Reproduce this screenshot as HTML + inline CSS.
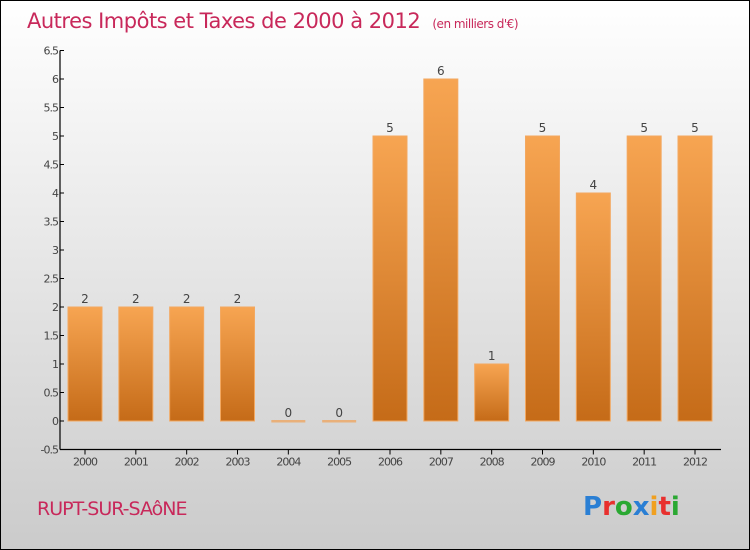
<!DOCTYPE html>
<html><head><meta charset="utf-8"><style>
body{margin:0;width:750px;height:550px;overflow:hidden}
svg{display:block;font-family:"DejaVu Sans","Liberation Sans",sans-serif}
</style></head><body>
<svg width="750" height="550">
<defs>
<linearGradient id="bg" x1="0" y1="0" x2="0" y2="1"><stop offset="0" stop-color="#ffffff"/><stop offset="1" stop-color="#cbcbcb"/></linearGradient>
<linearGradient id="bar" x1="0" y1="0" x2="0" y2="1"><stop offset="0" stop-color="#f7a552"/><stop offset="1" stop-color="#c56b18"/></linearGradient>
</defs>
<rect x="0.5" y="0.5" width="749" height="549" fill="url(#bg)" stroke="#000"/>
<text x="27" y="28" font-size="21" fill="#c8285a" style="letter-spacing:-0.5px">Autres Impôts et Taxes de 2000 à 2012 <tspan font-size="12" dx="6">(en milliers d'€)</tspan></text>
<g id="plot"></g>
<text x="37" y="515" font-size="19" fill="#c8285a" style="letter-spacing:-1px">RUPT-SUR-SAôNE</text>
<g font-size="26" font-weight="bold" font-family="'DejaVu Sans',sans-serif">
<text x="583" y="515"><tspan fill="#2a7fd4">P</tspan><tspan fill="#e8302e">r</tspan><tspan fill="#2aa832">o</tspan><tspan fill="#2a7fd4">x</tspan><tspan fill="#f0a020">i</tspan><tspan fill="#e8302e">t</tspan><tspan fill="#2aa832">i</tspan></text>
</g>
</svg>
<script>
const categories=["2000","2001","2002","2003","2004","2005","2006","2007","2008","2009","2010","2011","2012"];
const values=[2,2,2,2,0,0,5,6,1,5,4,5,5];
const yTicks=[-0.5,0,0.5,1,1.5,2,2.5,3,3.5,4,4.5,5,5.5,6,6.5];
const NS="http://www.w3.org/2000/svg";
const g=document.getElementById('plot');
const x0=60,x1=721,yTop=50.5,yBot=449.5,yMin=-0.5,yMax=6.5;
const y=v=>yBot-(v-yMin)/(yMax-yMin)*(yBot-yTop);
const xc=i=>85+i*(695-85)/(categories.length-1);
function el(t,a){const e=document.createElementNS(NS,t);for(const k in a)e.setAttribute(k,a[k]);g.appendChild(e);return e;}
const ya=el('line',{x1:x0,y1:yTop,x2:x0,y2:yBot,stroke:'#000','stroke-width':1.2});


const xa=el('line',{x1:x0,y1:yBot,x2:x1,y2:yBot,stroke:'#000','stroke-width':1.2});


yTicks.forEach(t=>{
 el('line',{x1:x0,y1:y(t),x2:x0+4,y2:y(t),stroke:'#000'});
 const tx=el('text',{x:x0-2,y:y(t)+4,'font-size':11,fill:'#444','text-anchor':'end','letter-spacing':'-1'});
 tx.textContent=String(t);
 
 
});
categories.forEach((c,i)=>{
 const cx=xc(i),v=values[i];
 el('line',{x1:cx,y1:yBot,x2:cx,y2:yBot+5,stroke:'#000'});
 const lb=el('text',{x:cx,y:yBot+16,'font-size':11,fill:'#444','text-anchor':'middle','letter-spacing':'-1'});
 lb.textContent=c;
 
 
 let b;
 if(v===0){b=el('rect',{x:cx-17,y:y(0)-1,width:34,height:2.5,fill:'#e9b07a'});}
 else{b=el('rect',{x:cx-17,y:y(v),width:34,height:y(0)-y(v),fill:'url(#bar)',stroke:'#f3a860','stroke-width':1});}
 
 
 const vl=el('text',{x:cx,y:y(v)-4,'font-size':12,fill:'#444','text-anchor':'middle'});
 vl.textContent=String(v);
 
 
});
</script>
</body></html>
